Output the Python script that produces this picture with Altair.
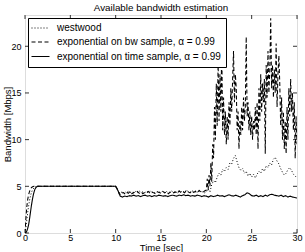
import altair as alt
import numpy as np
import pandas as pd

FONT = "Liberation Sans"
W, H = 272, 218

# --- series: "exponential on time sample" (solid) ---
time_ramp = [0, 0.05, 0.2, 0.5, 0.9, 1.5, 2.2, 2.9, 3.5, 4.0, 4.4, 4.7, 4.85, 4.95, 5.0, 5.0]
time_tail = [
    4.55, 3.95, 3.85, 3.95, 3.9, 4.0, 3.95, 4.05, 3.95, 4.0,
    3.9, 4.0, 4.05, 3.95, 4.0, 3.9, 4.0, 3.95, 4.05, 4.0,
    3.95, 4.0, 3.9, 4.0, 4.05, 4.0, 3.95, 4.05, 4.0, 4.1,
    4.0, 4.05, 3.95, 4.0, 3.95, 4.05, 4.0, 3.9, 4.0, 3.95,
    3.85, 4.0, 3.9, 3.95, 4.05, 3.95, 4.0, 3.9, 4.0, 4.1,
    4.0, 3.95, 4.05, 3.95, 3.85, 4.0, 4.1, 4.3, 4.2, 4.0,
    3.95, 4.05, 3.9, 4.0, 3.9, 4.05, 3.95, 4.1, 4.15, 4.05,
    4.0, 3.95, 4.05, 3.9, 4.0, 3.85, 3.95, 3.85, 3.8, 3.75,
]

# --- series: "exponential on bw sample" (dashed) ---
bw_ramp = [0, 1.6, 2.8, 3.6, 4.1, 4.45, 4.7, 4.85, 4.93, 4.98, 5.0]
bw_mid = [
    4.7, 4.2, 4.1, 4.35, 4.2, 4.4, 4.25, 4.45, 4.2, 4.35,
    4.3, 4.45, 4.25, 4.4, 4.2, 4.35, 4.3, 4.45, 4.25, 4.4,
    4.3, 4.2, 4.4, 4.35, 4.25, 4.45, 4.3, 4.4, 4.2, 4.35,
    4.45, 4.3, 4.4, 4.25, 4.5, 4.35, 4.45, 4.3, 4.55, 4.4,
    4.3, 4.5, 4.35, 4.45, 4.3, 4.55, 4.4, 4.35, 4.5, 4.6,
]
bw_tail = [
    5.8, 4.6, 6.2, 5.0, 7.5, 5.5, 9.5, 8.0, 13.5, 10.0,
    16.0, 11.5, 18.3, 12.0, 17.0, 13.0, 20.0, 11.0, 14.5, 10.5,
    13.0, 9.5, 12.5, 10.0, 14.0, 11.5, 15.5, 13.0, 16.5, 19.5,
    14.0, 17.0, 15.5, 11.0, 13.0, 9.0, 12.0, 10.5, 13.5, 11.0,
    14.5, 12.0, 13.5, 21.0, 12.5, 14.0, 11.0, 13.0, 10.5, 12.5,
    10.0, 12.0, 11.0, 13.5, 10.5, 14.0, 9.0, 15.5, 12.0, 17.0,
    13.0, 16.0, 14.0, 16.5, 8.5, 18.0, 14.5, 19.5, 15.0, 17.5,
    23.0, 15.5, 18.0, 14.5, 17.5, 15.0, 20.3, 13.5, 17.0, 19.0,
    16.0, 11.5, 14.5, 10.0, 13.0, 9.0, 12.0, 8.5, 13.5, 10.0,
    15.5, 12.5, 16.5, 13.0, 15.0, 11.0, 14.0, 8.0, 12.5, 9.5,
]

# --- series: "westwood" (dotted) ---
ww_ramp = [0, 0.6, 1.4, 2.2, 2.9, 3.5, 3.95, 4.3, 4.55, 4.72, 4.84, 4.92, 4.97, 5.0]
ww_tail = [
    4.6, 4.3, 4.4, 4.25, 4.45, 4.3, 4.5, 4.35, 4.4, 4.25,
    4.45, 4.3, 4.5, 4.35, 4.4, 4.3, 4.45, 4.35, 4.5, 4.3,
    4.4, 4.25, 4.45, 4.4, 4.3, 4.5, 4.35, 4.45, 4.3, 4.4,
    4.5, 4.35, 4.45, 4.3, 4.55, 4.4, 4.5, 4.35, 4.6, 4.45,
    4.35, 4.55, 4.4, 4.5, 4.35, 4.6, 4.45, 4.4, 4.3, 4.4,
    4.7, 4.4, 5.2, 5.6, 5.4, 6.0, 6.4, 6.2, 6.8, 6.6,
    7.0, 6.8, 7.5, 7.4, 8.0, 8.3, 7.6, 7.0, 6.7, 6.9,
    6.4, 6.6, 6.1, 6.4, 6.0, 6.3, 5.9, 6.3, 6.6, 6.4,
    6.9, 6.6, 7.2, 7.0, 7.5, 7.3, 7.9, 8.1, 7.7, 7.4,
    6.9, 6.5, 6.2, 6.4, 6.8, 7.0, 6.7, 6.3, 6.1, 5.9,
]

x_ticks = [0, 5, 10, 15, 20, 25, 30]
y_ticks = [0, 5, 10, 15, 20]

S_WW = "westwood"
S_BW = "exponential on bw sample, \u03b1 = 0.99"
S_TS = "exponential on time sample, \u03b1 = 0.99"


def steps(start, step, n):
    return list(np.round(start + step * np.arange(n), 3))


def series(name, t, v):
    return pd.DataFrame({"t": t, "v": v, "series": name})


ts_t = steps(0, 0.1, len(time_ramp)) + [10.0] + steps(10.25, 0.25, len(time_tail))
ts_v = time_ramp + [5.0] + time_tail
bw_t = steps(0, 0.1, len(bw_ramp)) + [10.0] + steps(10.2, 0.2, len(bw_mid)) + steps(20.1, 0.1, len(bw_tail))
bw_v = bw_ramp + [5.0] + bw_mid + bw_tail
ww_t = steps(0, 0.1, len(ww_ramp)) + [10.0] + steps(10.2, 0.2, len(ww_tail))
ww_v = ww_ramp + [5.0] + ww_tail

df = pd.concat([
    series(S_WW, ww_t, ww_v),
    series(S_BW, bw_t, bw_v),
    series(S_TS, ts_t, ts_v),
], ignore_index=True)

order = [S_WW, S_BW, S_TS]
xs = alt.Scale(domain=[0, 30], nice=False, zero=False)
ys = alt.Scale(domain=[0, 23.35], nice=False)

lines = alt.Chart(df).mark_line(color="black", clip=True).encode(
    x=alt.X("t:Q", scale=xs, title="Time [sec]",
            axis=alt.Axis(values=x_ticks, ticks=False, domain=False, grid=False,
                          labelPadding=0, labelFontSize=9, labelFlush=False,
                          titleY=17, titleBaseline="alphabetic",
                          titleFontSize=9.5, titleFontWeight="normal")),
    y=alt.Y("v:Q", scale=ys, title="Bandwidth [Mbps]",
            axis=alt.Axis(values=y_ticks, ticks=False, domain=False, grid=False,
                          labelPadding=4, labelFontSize=9, labelFlush=False,
                          titleX=-15, titleBaseline="alphabetic",
                          titleFontSize=9.5, titleFontWeight="normal")),
    strokeDash=alt.StrokeDash(
        "series:N", sort=order,
        scale=alt.Scale(domain=order, range=[[1, 2], [4, 2.5], [1, 0]]),
        legend=alt.Legend(title=None, orient="top-left", offset=2.5,
                          labelLimit=300, strokeColor="black", fillColor="white",
                          padding=5, symbolType="M-2,0H2", symbolSize=81,
                          symbolOffset=2, symbolStrokeWidth=1.2,
                          symbolStrokeColor="black",
                          rowPadding=3.5, labelOffset=11),
    ),
    strokeWidth=alt.StrokeWidth(
        "series:N", sort=order,
        scale=alt.Scale(domain=order, range=[1.0, 1.1, 1.6]),
        legend=None,
    ),
    order=alt.Order("t:Q"),
)

xt = pd.DataFrame({"x": x_ticks})
yt = pd.DataFrame({"y": y_ticks})
tick_x = alt.X("x:Q", scale=xs)
tick_y = alt.Y("y:Q", scale=ys)
bottom_ticks = alt.Chart(xt).mark_rule(color="black", strokeWidth=0.8).encode(
    x=tick_x, y=alt.value(H), y2=alt.value(H - 4))
top_ticks = alt.Chart(xt).mark_rule(color="black", strokeWidth=0.8).encode(
    x=tick_x, y=alt.value(0), y2=alt.value(4))
left_ticks = alt.Chart(yt).mark_rule(color="black", strokeWidth=0.8).encode(
    y=tick_y, x=alt.value(0), x2=alt.value(4))
right_ticks = alt.Chart(yt).mark_rule(color="black", strokeWidth=0.8).encode(
    y=tick_y, x=alt.value(W), x2=alt.value(W - 4))

chart = alt.layer(
    bottom_ticks, top_ticks, left_ticks, right_ticks, lines
).properties(
    width=W,
    height=H,
    title=alt.TitleParams("Available bandwidth estimation", fontSize=9.8,
                          font=FONT, fontWeight="normal", offset=2, anchor="middle"),
    autosize=alt.AutoSizeParams(type="none"),
    padding={"left": 25, "top": 15, "right": 8, "bottom": 19},
).configure_view(
    stroke="black", strokeWidth=1,
).configure_axis(
    labelFont=FONT, titleFont=FONT, labelColor="black", titleColor="black",
).configure_legend(
    labelFont=FONT, labelFontSize=9.5, labelColor="black", cornerRadius=0,
).configure(background="white")

chart.save("out.html", embed_options={"renderer": "svg", "actions": False})
